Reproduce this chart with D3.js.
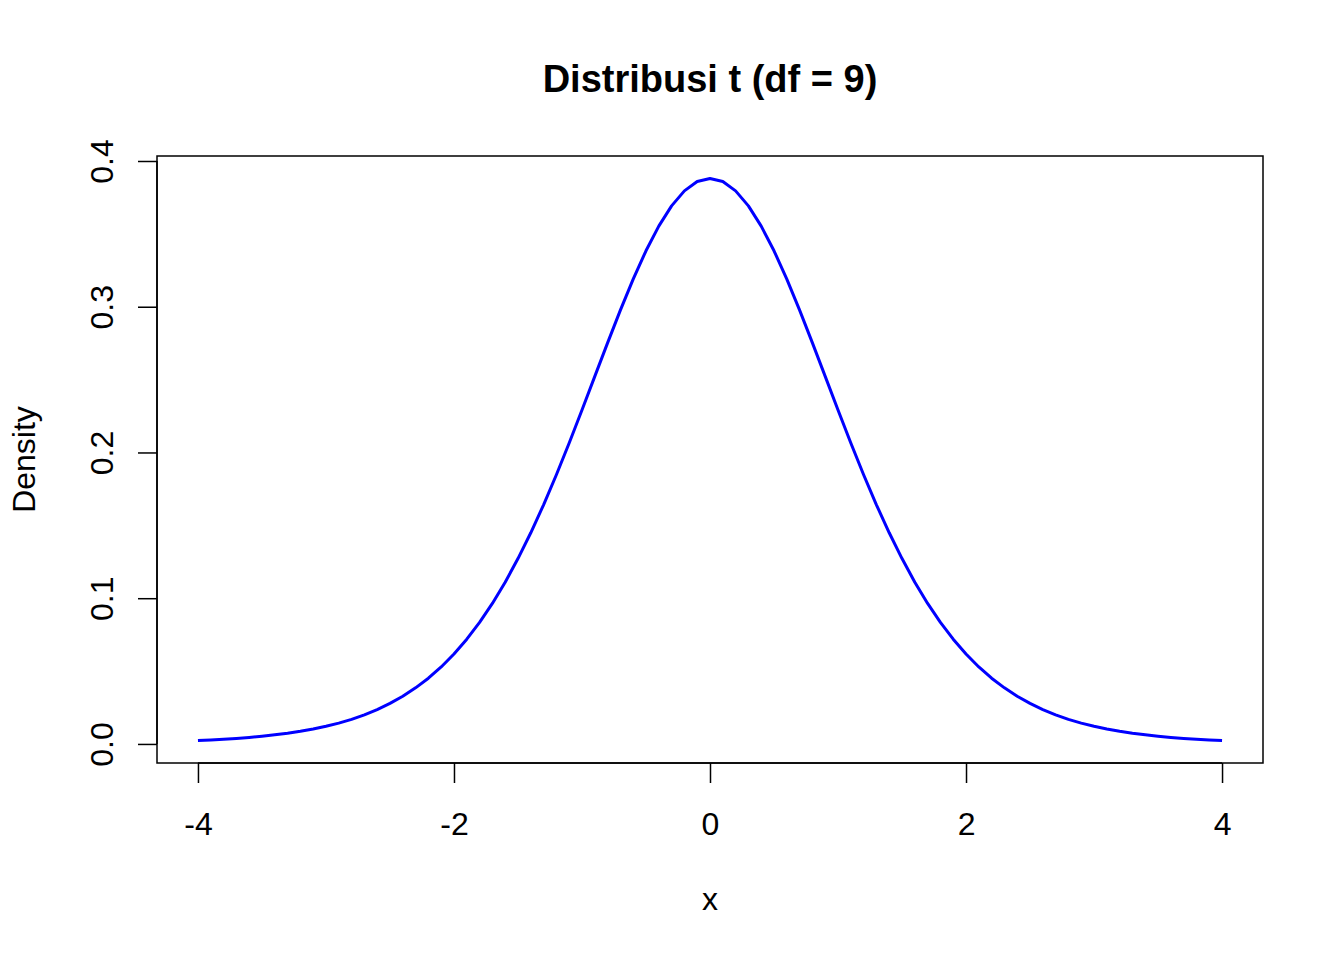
<!DOCTYPE html>
<html>
<head>
<meta charset="utf-8">
<script src="https://cdn.jsdelivr.net/npm/d3@7"></script>
<style>
  body { margin: 0; background: #fff; }
  text { font-family: "Liberation Sans", Arial, sans-serif; fill: #000; }
</style>
</head>
<body>
<svg id="chart" width="1344" height="960"></svg>
<script>
// Data (density of t, df = 9), right half; curve is symmetric about 0
const xValues = [-4.0,-3.9,-3.8,-3.7,-3.6,-3.5,-3.4,-3.3,-3.2,-3.1,-3.0,-2.9,-2.8,-2.7,-2.6,-2.5,-2.4,-2.3,-2.2,-2.1,
                 -2.0,-1.9,-1.8,-1.7,-1.6,-1.5,-1.4,-1.3,-1.2,-1.1,-1.0,-0.9,-0.8,-0.7,-0.6,-0.5,-0.4,-0.3,-0.2,-0.1,
                 0.0,0.1,0.2,0.3,0.4,0.5,0.6,0.7,0.8,0.9,1.0,1.1,1.2,1.3,1.4,1.5,1.6,1.7,1.8,1.9,
                 2.0,2.1,2.2,2.3,2.4,2.5,2.6,2.7,2.8,2.9,3.0,3.1,3.2,3.3,3.4,3.5,3.6,3.7,3.8,3.9,4.0];
const densityValues = [0.00235,0.00276,0.00324,0.00381,0.00449,0.00529,0.00624,0.00736,0.00869,0.01026,
                       0.0121,0.0143,0.0169,0.0200,0.0236,0.0278,0.0327,0.0385,0.0451,0.0528,
                       0.0617,0.0719,0.0834,0.0964,0.1110,0.1272,0.1449,0.1641,0.1847,0.2065,
                       0.2291,0.2522,0.2752,0.2977,0.3189,0.3384,0.3553,0.3692,0.3795,0.3859,
                       0.3880,
                       0.3859,0.3795,0.3692,0.3553,0.3384,0.3189,0.2977,0.2752,0.2522,0.2291,
                       0.2065,0.1847,0.1641,0.1449,0.1272,0.1110,0.0964,0.0834,0.0719,0.0617,
                       0.0528,0.0451,0.0385,0.0327,0.0278,0.0236,0.0200,0.0169,0.0143,0.0121,
                       0.01026,0.00869,0.00736,0.00624,0.00529,0.00449,0.00381,0.00324,0.00276,0.00235];
const xTicks = [-4, -2, 0, 2, 4];
const yTicks = [0.0, 0.1, 0.2, 0.3, 0.4];
const yTickLabels = ["0.0", "0.1", "0.2", "0.3", "0.4"];
const titleText = "Distribusi t (df = 9)";
const xLabel = "x";
const yLabel = "Density";

(function () {
const svg = d3.select("#chart");
const pLeft = 157, pRight = 1263, pTop = 156, pBottom = 763;

// R-style 4% range extension
function ext(lo, hi) { const p = (hi - lo) * 0.04; return [lo - p, hi + p]; }
const xDom = ext(d3.min(xValues), d3.max(xValues));
const yDom = ext(d3.min(densityValues), d3.max(densityValues));

const x = d3.scaleLinear().domain(xDom).range([pLeft, pRight]);
const y = d3.scaleLinear().domain(yDom).range([pBottom, pTop]);

// plot box
svg.append("rect").attr("x", pLeft).attr("y", pTop)
  .attr("width", pRight - pLeft).attr("height", pBottom - pTop)
  .attr("fill", "none").attr("stroke", "#000").attr("stroke-width", 1.5);

// curve
svg.append("path")
  .datum(xValues.map((v, i) => [v, densityValues[i]]))
  .attr("d", d3.line().x(d => x(d[0])).y(d => y(d[1])))
  .attr("fill", "none").attr("stroke", "#0000ff").attr("stroke-width", 3)
  .attr("stroke-linejoin", "round");

// x axis
const xAxis = d3.axisBottom(x).tickValues(xTicks).tickSize(20)
  .tickFormat(d3.format("d"));
const gx = svg.append("g").attr("transform", `translate(0,${pBottom})`).call(xAxis);
gx.select(".domain").attr("d", `M${x(xTicks[0])},0H${x(xTicks[xTicks.length-1])}`)
  .attr("stroke-width", 1.5);
gx.selectAll(".tick line").attr("stroke-width", 1.5);
gx.selectAll(".tick text").attr("font-size", 32).attr("font-family", "Liberation Sans, Arial, sans-serif")
  .attr("y", 72).attr("dy", null)
  .text(d => d < 0 ? "-" + Math.abs(d) : String(d));

// y axis
const yAxis = d3.axisLeft(y).tickValues(yTicks).tickSize(19)
  .tickFormat((d, i) => yTickLabels[i]);
const gy = svg.append("g").attr("transform", `translate(${pLeft},0)`).call(yAxis);
gy.select(".domain").attr("d", `M0,${y(yTicks[0])}V${y(yTicks[yTicks.length-1])}`)
  .attr("stroke-width", 1.5);
gy.selectAll(".tick line").attr("stroke-width", 1.5);
gy.selectAll(".tick text")
  .attr("font-size", 32).attr("font-family", "Liberation Sans, Arial, sans-serif")
  .attr("x", null).attr("dy", null)
  .attr("text-anchor", "middle")
  .attr("transform", "translate(-44,0) rotate(-90)");

// title
svg.append("text").attr("x", (pLeft + pRight) / 2).attr("y", 92)
  .attr("text-anchor", "middle").attr("font-size", 38).attr("font-weight", "bold")
  .text(titleText);

// axis labels
svg.append("text").attr("x", (pLeft + pRight) / 2).attr("y", 910)
  .attr("text-anchor", "middle").attr("font-size", 32).text(xLabel);
svg.append("text").attr("transform", `translate(35,${(pTop + pBottom) / 2}) rotate(-90)`)
  .attr("text-anchor", "middle").attr("font-size", 32).text(yLabel);
})();
</script>
</body>
</html>
